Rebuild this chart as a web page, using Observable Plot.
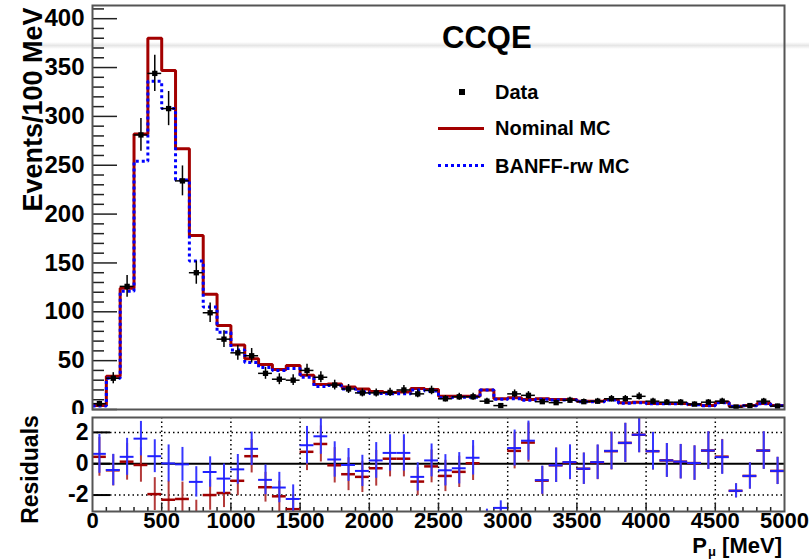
<!DOCTYPE html>
<html><head><meta charset="utf-8">
<script src="https://cdn.jsdelivr.net/npm/d3@7"></script>
<script src="https://cdn.jsdelivr.net/npm/@observablehq/plot@0.6"></script>
<style>
body{margin:0;background:#fff;font-family:"Liberation Sans",Arial,Helvetica,sans-serif;font-weight:bold;color:#000}
#wrap{position:relative;width:809px;height:560px;overflow:hidden;background:#fff}
.abs{position:absolute;white-space:nowrap}
#top,#bot{position:absolute;left:0}
#top{top:0}
#bot{top:414px;background:#fff}
</style></head><body><div id="wrap">
<div class="abs" style="left:33px;top:42px;width:776px;height:7px;background:linear-gradient(#fff0,#e6e6e6,#fff0)"></div>
<div id="top"></div>
<div id="bot"></div>
</div>
<script>
// ---- data ----
const binLow = [0,100,200,300,400,500,600,700,800,900,1000,1100,1200,1300,1400,1500,1600,1700,1800,1900,
  2000,2100,2200,2300,2400,2500,2600,2700,2800,2900,3000,3100,3200,3300,3400,3500,3600,3700,3800,3900,
  4000,4100,4200,4300,4400,4500,4600,4700,4800,4900];
const binWidth = 100;
const nominalMC = [4,34,124,282,380,347,267,178,118,86,66,52,46,41,45,35,25.5,26,23,21,
  18.5,17.5,18,21.5,20.5,13.6,13.6,13.6,20,11,12,10.2,11,10.2,10.2,8.5,8.5,10.2,7,7.5,
  6.1,6.1,6.1,5.1,4.1,7.5,3.4,4.1,6.1,4.1];
const banffMC = [3.5,32,121,254,336,308,235,152,105,79,61,48,43,40,42,33,23.5,24.5,21,18,
  16.5,16,16,20,19,12,12.5,12.5,20,10.5,11,9.5,10.5,9.8,9.8,8,8,9.8,6.3,7,
  5.8,5.8,5.8,4.8,3.8,7,3.1,3.8,5.8,3.8];
const dataCounts = [6,32,126,281,344,308,234,140,99,72,58,55,37,31,30,40,33,25,21,17,
  17,17.5,20,16,19.5,11,13,13,8.5,4,16,14.5,8,7,9.5,8,8.5,11,11,13.5,
  8.5,7.5,7.5,5.5,7.5,8.5,2.5,4,8.5,3.5];
const dataErr = [2.4,5.7,11.2,16.8,18.5,17.5,15.3,11.8,9.9,8.5,7.6,7.4,6.1,5.6,5.5,6.3,5.7,5,4.6,4.1,
  4.1,4.2,4.5,4,4.4,3.3,3.6,3.6,2.9,2,4,3.8,2.8,2.6,3.1,2.8,2.9,3.3,3.3,3.7,
  2.9,2.7,2.7,2.3,2.7,2.9,1.6,2,2.9,1.9];
const resBanff = [0.63,-0.40,0.44,1.60,0.48,0.02,-0.04,-1.16,-0.53,-0.95,-0.36,0.95,-1.03,-1.52,-2.25,1.18,1.75,0.27,-0.08,-0.46,
  0.21,0.69,0.69,-0.84,0.21,-0.42,-0.29,0.38,-3.8,-2.82,1.00,1.47,-1.05,-0.10,0.10,-0.32,0.10,0.82,1.33,1.85,
  0.80,0.21,0.13,0.04,0.84,0.42,-1.73,-0.78,0.84,-0.46];
const resNominal = [0.44,-0.42,0.13,-0.08,-1.94,-2.30,-2.25,-3.3,-2.00,-1.87,-1.09,0.48,-1.50,-2.08,-2.90,0.76,1.26,-0.10,-0.67,-0.84,
  -0.29,0.32,0.32,-1.14,-0.17,-0.78,-0.52,0.03,-4.0,-3.3,0.82,1.35,-1.08,-0.10,0.08,-0.32,0.08,0.80,1.33,1.85,
  0.80,0.21,0.13,0.04,0.84,0.45,-1.73,-0.78,0.84,-0.46];
const resErr = [1.24,1.0,1.18,1.1,1.05,1.18,1.08,0.97,0.97,0.93,0.95,1.07,0.95,0.97,0.9,1.2,1.15,1.13,1.05,1.0,
  1.14,1.16,1.16,0.9,1.05,1.0,1.0,1.1,0.9,0.45,1.15,1.25,0.9,1.1,1.1,1.0,1.1,1.2,1.25,1.15,
  1.2,1.08,1.1,1.1,1.2,1.1,0.45,0.84,1.2,0.87];
const yTicks = [0,50,100,150,200,250,300,350,400];
const yMinorTicks = [10,20,30,40,60,70,80,90,110,120,130,140,160,170,180,190,210,220,230,240,260,270,280,290,310,320,330,340,360,370,380,390,410];
const xTicks = [0,500,1000,1500,2000,2500,3000,3500,4000,4500,5000];
const xGrid = [500,1000,1500,2000,2500,3000,3500,4000,4500];
const xMinorTicks = [100,200,300,400,600,700,800,900,1100,1200,1300,1400,1600,1700,1800,1900,2100,2200,2300,2400,
  2600,2700,2800,2900,3100,3200,3300,3400,3600,3700,3800,3900,4100,4200,4300,4400,4600,4700,4800,4900];
const resTicks = [-2,0,2];
const legendLabels = ["Data","Nominal MC","BANFF-rw MC"];
const titleText = "CCQE";

// ---- build ----
const bins = binLow.map((lo,i)=>({lo, hi: lo+binWidth, mid: lo+binWidth/2,
  nom: nominalMC[i], banff: banffMC[i], data: dataCounts[i], err: dataErr[i],
  rB: resBanff[i], rN: resNominal[i], rE: resErr[i]}));
const stepNom = bins.flatMap(b=>[{x:b.lo,y:b.nom},{x:b.hi,y:b.nom}]);
const stepBanff = bins.flatMap(b=>[{x:b.lo,y:b.banff},{x:b.hi,y:b.banff}]);

const FONT = '"Liberation Sans", Arial, Helvetica, sans-serif';
const W = 809, ML = 92, MR = 25;
const frameW = W - ML - MR;

const topPlot = Plot.plot({
  width: W, height: 414, marginLeft: ML, marginRight: MR, marginTop: 5, marginBottom: 5,
  style: {fontFamily: FONT, fontWeight: "bold", background: "transparent", overflow: "visible", color: "#000"},
  x: {domain: [0, 5000], axis: null},
  y: {domain: [0, 413.5], axis: null},
  marks: [
    Plot.ruleY(yTicks, {insetRight: frameW - 25, stroke: "#222", strokeWidth: 1.5}),
    Plot.ruleY(yMinorTicks, {insetRight: frameW - 12, stroke: "#222", strokeWidth: 1.5}),
    Plot.axisY({ticks: yTicks, tickSize: 0, tickPadding: 8, label: null, tickFormat: d => String(d), fontSize: 24, fontWeight: "bold"}),
    Plot.line(stepNom, {x: "x", y: "y", stroke: "#a30000", strokeWidth: 3, strokeLinecap: "butt", strokeLinejoin: "miter"}),
    Plot.line(stepBanff, {x: "x", y: "y", stroke: "#0000ff", strokeWidth: 3, strokeDasharray: "3,3", strokeLinecap: "butt", strokeLinejoin: "miter"}),
    Plot.ruleY(bins, {x1: "lo", x2: "hi", y: "data", stroke: "#000", strokeWidth: 1.5}),
    Plot.ruleX(bins, {x: "mid", y1: d => d.data - d.err, y2: d => d.data + d.err, stroke: "#000", strokeWidth: 1.5}),
    Plot.dot(bins, {x: "mid", y: "data", symbol: "square", fill: "#000", r: 3}),
    Plot.frame({stroke: "#555", strokeWidth: 2}),
    Plot.text(["Events/100 MeV"], {frameAnchor: "top-left", dx: -70, dy: 2, rotate: -90, textAnchor: "end", fontSize: 27, fontWeight: "bold"})
  ]
});
document.getElementById("top").appendChild(topPlot);

const botH = 146, botMT = 3, botMB = 49;
const botFrameH = botH - botMT - botMB;
const clipped = {clip: true};
const botPlot = Plot.plot({
  width: W, height: botH, marginLeft: ML, marginRight: MR, marginTop: botMT, marginBottom: botMB,
  style: {fontFamily: FONT, fontWeight: "bold", background: "#fff", overflow: "visible", color: "#000"},
  x: {domain: [0, 5000], axis: null},
  y: {domain: [-3.05, 2.95], axis: null},
  marks: [
    Plot.ruleX(xGrid, {stroke: "#000", strokeWidth: 1.5, strokeDasharray: "1.5,3"}),
    Plot.ruleY([-2, 2], {stroke: "#000", strokeWidth: 1.5, strokeDasharray: "1.5,3"}),
    Plot.ruleY([0], {stroke: "#000", strokeWidth: 2}),
    Plot.ruleY(resTicks, {insetRight: frameW - 18, stroke: "#000", strokeWidth: 2}),
    Plot.ruleX(xGrid, {insetTop: botFrameH - 8, stroke: "#222", strokeWidth: 1.5}),
    Plot.ruleX(xMinorTicks, {insetTop: botFrameH - 4, stroke: "#222", strokeWidth: 1.5}),
    // nominal residuals
    Plot.ruleX(bins, {x: "mid", y1: d => d.rN - d.rE, y2: d => d.rN + d.rE, stroke: "#b33a3a", strokeWidth: 2, ...clipped}),
    Plot.ruleY(bins, {x1: "lo", x2: "hi", y: "rN", stroke: "#a00000", strokeWidth: 2.5, ...clipped}),
    // BANFF residuals
    Plot.ruleX(bins, {x: "mid", y1: d => d.rB - d.rE, y2: d => d.rB + d.rE, stroke: "#3636ff", strokeWidth: 2, ...clipped}),
    Plot.ruleY(bins, {x1: "lo", x2: "hi", y: "rB", stroke: "#2020ff", strokeWidth: 2, ...clipped}),
    Plot.axisX({ticks: xTicks, tickSize: 0, tickPadding: 1, label: null, tickFormat: d => String(d), fontSize: 22, fontWeight: "bold"}),
    Plot.axisY({ticks: resTicks, tickSize: 0, tickPadding: 4, label: null, tickFormat: d => String(d), fontSize: 23, fontWeight: "bold"}),
    Plot.frame({stroke: "#555", strokeWidth: 2}),
    Plot.text(["Residuals"], {frameAnchor: "left", dx: -62, dy: 5, rotate: -90, textAnchor: "middle", fontSize: 23, fontWeight: "bold"})
  ]
});
document.getElementById("bot").appendChild(botPlot);

// ---- title, legend, x label (HTML overlays) ----
const wrap = document.getElementById("wrap");
function add(html, style) {
  const d = document.createElement("div");
  d.className = "abs";
  d.innerHTML = html;
  Object.assign(d.style, style);
  wrap.appendChild(d);
  return d;
}
add(titleText, {left: "442px", top: "20px", fontSize: "31px", lineHeight: "36px"});
add("", {left: "459px", top: "89px", width: "6px", height: "6px", background: "#000"});
add(legendLabels[0], {left: "495px", top: "81px", fontSize: "20px", lineHeight: "22px"});
add("", {left: "438px", top: "126.5px", width: "46px", height: "0", borderTop: "3px solid #a30000"});
add(legendLabels[1], {left: "495px", top: "117px", fontSize: "20px", lineHeight: "22px"});
add("", {left: "438px", top: "164px", width: "46px", height: "0", borderTop: "3px dotted #0000ff"});
add(legendLabels[2], {left: "495px", top: "155px", fontSize: "20px", lineHeight: "22px"});
add('P<span style="font-size:13px;position:relative;top:3px;margin-left:1px">\u03bc</span> [MeV]',
  {right: "27px", top: "537px", fontSize: "22px", lineHeight: "17px"});
</script>
</body></html>
